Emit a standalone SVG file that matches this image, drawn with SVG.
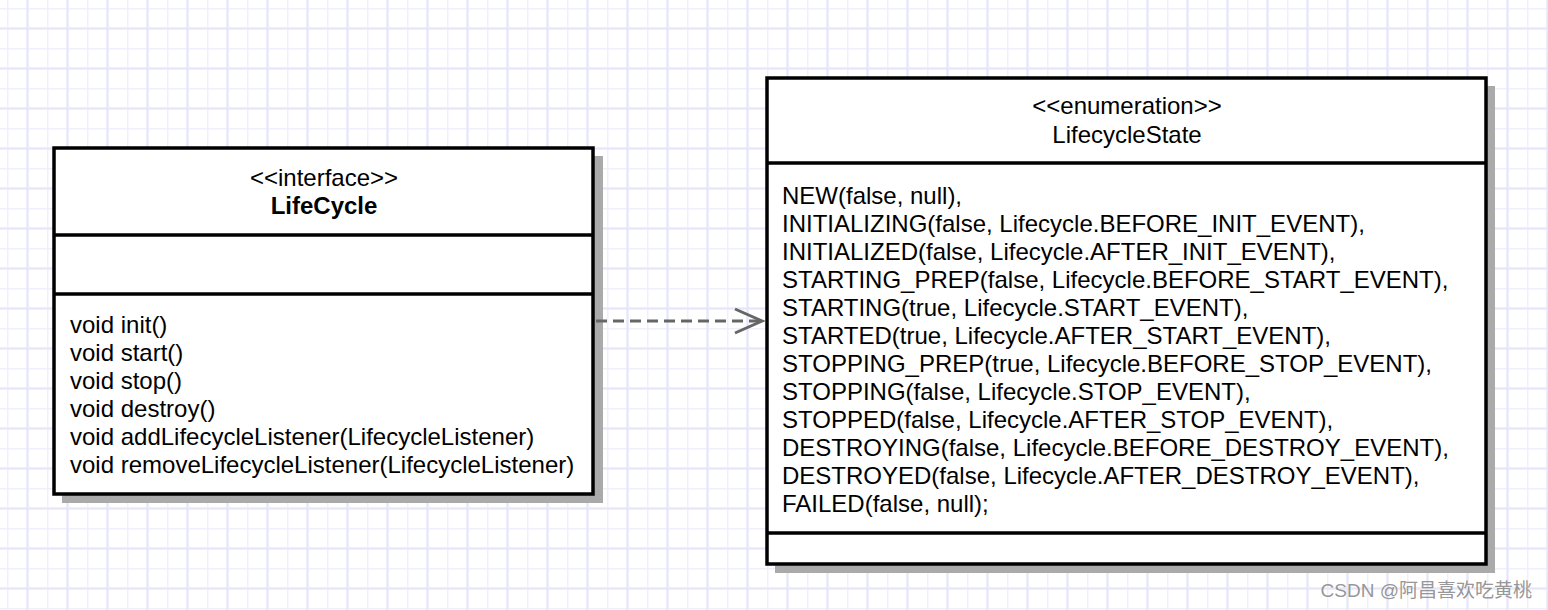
<svg xmlns="http://www.w3.org/2000/svg" width="1548" height="610" viewBox="0 0 1548 610">
<defs>
<pattern id="grid" x="7" y="8" width="40" height="40" patternUnits="userSpaceOnUse">
<rect width="40" height="40" fill="#ffffff"/>
<path d="M0 0.5H40M0 20.5H40M0.5 0V40M20.5 0V40" stroke="#f0f0fc" stroke-width="2" fill="none"/>
<path d="M0 20.5H40M20.5 0V40" stroke="#e6e6fb" stroke-width="2" fill="none"/>
</pattern>
<style>
.box{fill:#ffffff;stroke:#000000;stroke-width:3.5}
.shadow{fill:#aaaaaa}
.div{stroke:#000000;stroke-width:3.5}
.t{font-family:"Liberation Sans",Arial,sans-serif;font-size:24px;fill:#000000}
.c{text-anchor:middle}
.b{font-weight:bold}
.conn{stroke:#666666;stroke-width:3;fill:none}
</style>
</defs>
<rect width="1548" height="610" fill="url(#grid)"/>

<g id="LifeCycle">
<rect class="shadow" x="62" y="156" width="541" height="347"/>
<rect class="box" x="54" y="148" width="539" height="346"/>
<line class="div" x1="54" y1="235" x2="593" y2="235"/>
<line class="div" x1="54" y1="294" x2="593" y2="294"/>
<text class="t c" x="324" y="186">&lt;&lt;interface&gt;&gt;</text>
<text class="t c b" x="324" y="214">LifeCycle</text>
<text class="t" x="70" y="332.5">void init()</text>
<text class="t" x="70" y="360.5">void start()</text>
<text class="t" x="70" y="388.5">void stop()</text>
<text class="t" x="70" y="416.5">void destroy()</text>
<text class="t" x="70" y="444.5">void addLifecycleListener(LifecycleListener)</text>
<text class="t" x="70" y="472.5">void removeLifecycleListener(LifecycleListener)</text>
</g>

<g id="LifecycleState">
<rect class="shadow" x="775" y="86" width="720" height="487"/>
<rect class="box" x="767" y="78" width="719" height="486"/>
<line class="div" x1="767" y1="163" x2="1486" y2="163"/>
<line class="div" x1="767" y1="533" x2="1486" y2="533"/>
<text class="t c" x="1127" y="114">&lt;&lt;enumeration&gt;&gt;</text>
<text class="t c" x="1127" y="142.5">LifecycleState</text>
<text class="t" x="782" y="203.5">NEW(false, null),</text>
<text class="t" x="782" y="231.5">INITIALIZING(false, Lifecycle.BEFORE_INIT_EVENT),</text>
<text class="t" x="782" y="259.5">INITIALIZED(false, Lifecycle.AFTER_INIT_EVENT),</text>
<text class="t" x="782" y="287.5">STARTING_PREP(false, Lifecycle.BEFORE_START_EVENT),</text>
<text class="t" x="782" y="315.5">STARTING(true, Lifecycle.START_EVENT),</text>
<text class="t" x="782" y="343.5">STARTED(true, Lifecycle.AFTER_START_EVENT),</text>
<text class="t" x="782" y="371.5">STOPPING_PREP(true, Lifecycle.BEFORE_STOP_EVENT),</text>
<text class="t" x="782" y="399.5">STOPPING(false, Lifecycle.STOP_EVENT),</text>
<text class="t" x="782" y="427.5">STOPPED(false, Lifecycle.AFTER_STOP_EVENT),</text>
<text class="t" x="782" y="455.5">DESTROYING(false, Lifecycle.BEFORE_DESTROY_EVENT),</text>
<text class="t" x="782" y="483.5">DESTROYED(false, Lifecycle.AFTER_DESTROY_EVENT),</text>
<text class="t" x="782" y="511.5">FAILED(false, null);</text>
</g>

<g id="connectors">
<line class="conn" x1="596" y1="321" x2="760" y2="321" stroke-dasharray="11,6"/>
<polyline class="conn" points="735,309 762,321 735,333" stroke="#333333"/>
</g>

<text x="1532" y="597" text-anchor="end" font-family="'Liberation Sans','Noto Sans CJK SC',sans-serif" font-size="19" fill="#8a8a8a" fill-opacity="0.9">CSDN @阿昌喜欢吃黄桃</text>
</svg>
